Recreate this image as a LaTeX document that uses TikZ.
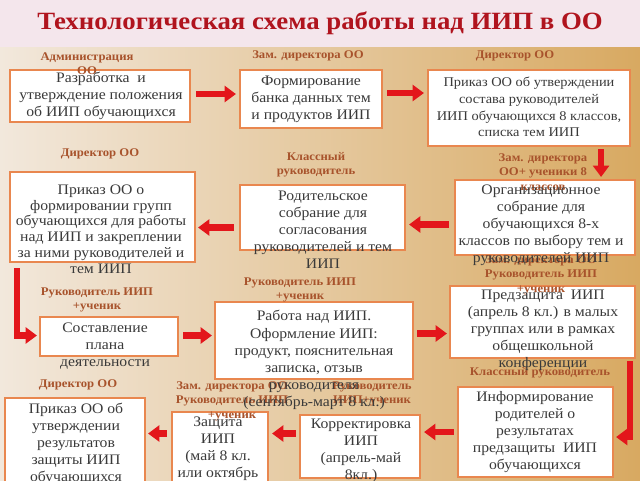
\documentclass[tikz,border=0pt]{standalone}
\usepackage{fontspec}
\setmainfont[FakeStretch=1.08]{Liberation Serif}
\usetikzlibrary{arrows.meta,calc,fit}
\definecolor{bandpink}{HTML}{F4E6EC}
\definecolor{titlered}{HTML}{B0141E}
\definecolor{bgL}{HTML}{F2E8DC}
\definecolor{bgM}{HTML}{E6C697}
\definecolor{bgR}{HTML}{D8A961}
\definecolor{boxor}{HTML}{E9874F}
\definecolor{txtc}{HTML}{3A3A3A}
\definecolor{labc}{HTML}{A8532C}
\definecolor{arrred}{HTML}{E3161B}
\tikzset{
  box/.style={draw=boxor, line width=1.6pt, fill=white, inner sep=0pt},
  txt/.style={align=center, text=txtc, inner sep=0pt, font=\fontsize{10.9}{12.8}\selectfont},
  lab/.style={align=center, text=labc, inner sep=0pt, font=\bfseries\fontsize{8.8}{10.8}\selectfont},
  arr/.style={draw=arrred, line width=4.6pt, line join=miter, -{Triangle[length=8.5pt,width=12pt]}},
}
\begin{document}
\begin{tikzpicture}[x=0.75pt,y=-0.75pt]
\useasboundingbox (0,0) rectangle (640,480);
\clip (0,0) rectangle (640,480);
\shade[left color=bgL, middle color=bgM, right color=bgR] (0,46) rectangle (640,480);
\fill[bandpink] (0,0) rectangle (640,47);
\node[text=titlered, font=\bfseries\fontsize{18.6}{22}\selectfont, inner sep=0pt] (title) at (320,23) {Технологическая схема работы над ИИП в ОО};

% boxes
\node[box, fit={(10,70) (190,122)}] (b1) {};
\node[box, fit={(240,70) (382,128)}] (b2) {};
\node[box, fit={(428,70) (630,146)}] (b3) {};
\node[box, fit={(455,180) (635,255)}] (b4) {};
\node[box, fit={(240,185) (405,250)}] (b5) {};
\node[box, fit={(10,172) (195,262)}] (b6) {};
\node[box, fit={(40,317) (178,356)}] (b7) {};
\node[box, fit={(215,302) (413,379)}] (b8) {};
\node[box, fit={(450,286) (635,358)}] (b9) {};
\node[box, fit={(458,387) (613,477)}] (b10) {};
\node[box, fit={(300,415) (420,478)}] (b11) {};
\node[box, fit={(172,412) (268,495)}] (b12) {};
\node[box, fit={(5,398) (145,495)}] (b13) {};

% arrows
\coordinate (a1s) at ($(b1.east)+(5,-2)$);
\draw[arr] (a1s) -- ($(a1s -| b2.west)+(-3,0)$);
\coordinate (a2s) at ($(b2.east)+(4,-6)$);
\draw[arr] (a2s) -- ($(a2s -| b3.west)+(-3,0)$);
\coordinate (a3s) at ($(b3.south east)+(-30,2)$);
\draw[arr] (a3s) -- ($(a3s |- b4.north)+(0,-2)$);
\coordinate (a4s) at ($(b4.west)+(-5,7)$);
\draw[arr] (a4s) -- ($(a4s -| b5.east)+(3,0)$);
\coordinate (a5s) at ($(b5.west)+(-5,10)$);
\draw[arr] (a5s) -- ($(a5s -| b6.east)+(2,0)$);
\coordinate (a6s) at ($(b6.south west)+(8,5)$);
\draw[arr] (a6s) |- ($(b7.west)+(-2,-1)$);
\coordinate (a7s) at ($(b7.east)+(4,-1)$);
\draw[arr] (a7s) -- ($(a7s -| b8.west)+(-2,0)$);
\coordinate (a8s) at ($(b8.east)+(3,-7)$);
\draw[arr] (a8s) -- ($(a8s -| b9.west)+(-2,0)$);
\coordinate (a9s) at ($(b9.south east)+(-6,2)$);
\draw[arr] (a9s) |- ($(b10.east)+(2,5)$);
\coordinate (a10s) at ($(b10.west)+(-3,0)$);
\draw[arr] (a10s) -- ($(a10s -| b11.east)+(3,0)$);
\coordinate (a11s) at ($(b11.west)+(-3,-13)$);
\draw[arr] (a11s) -- ($(a11s -| b12.east)+(3,0)$);
\coordinate (a12s) at ($(b12.west)+(-4,-20)$);
\draw[arr] (a12s) -- ($(a12s -| b13.east)+(2,0)$);

% labels
\node[lab] (l1) at (87,63.5) {Администрация\\ОО};
\node[lab] (l2) at (308,56) {Зам. директора ОО};
\node[lab] (l3) at (515,56) {Директор ОО};
\node[lab] (l6) at (100,154) {Директор ОО};
\node[lab] (l5) at (316,165) {Классный\\руководитель};
\node[lab] (l4) at (543,172) {Зам. директора\\ОО+ ученики 8\\классов};
\node[lab] (l7) at (97,300) {Руководитель ИИП\\+ученик};
\node[lab] (l8) at (300,290) {Руководитель ИИП\\+ученик};
\node[lab] (l9) at (541,275) {Зам. директора ОО\\Руководитель ИИП\\+ученик};
\node[lab] (l10) at (540,373) {Классный руководитель};
\node[lab] (l11) at (372,394) {Руководитель\\ИИП+ученик};
\node[lab] (l12) at (232,401) {Зам. директора ОО\\Руководитель ИИП\\+ученик};
\node[lab] (l13) at (78,385) {Директор ОО};

% box texts
\node[txt] (t1) at (101,96) {Разработка\ \ и\\утверждение положения\\об ИИП обучающихся};
\node[txt] (t2) at (311,99) {Формирование\\банка данных тем\\и продуктов ИИП};
\node[txt, font=\fontsize{10}{12.5}\selectfont] (t3) at (529,107) {Приказ ОО об утверждении\\состава руководителей\\ИИП обучающихся 8 классов,\\списка тем ИИП};
\node[txt] (t4) at (541,225) {Организационное\\собрание для\\обучающихся 8-х\\классов по выбору тем и\\руководителей ИИП};
\node[txt] (t5) at (323,230) {Родительское\\собрание для\\согласования\\руководителей и тем\\ИИП};
\node[txt, font=\fontsize{10.9}{11.8}\selectfont] (t6) at (101,229) {Приказ ОО о\\формировании групп\\обучающихся для работы\\над ИИП и закреплении\\за ними руководителей и\\тем ИИП};
\node[txt] (t7) at (105,346) {Составление\\плана\\деятельности};
\node[txt] (t8) at (314,360) {Работа над ИИП.\\Оформление ИИП:\\продукт, пояснительная\\записка, отзыв\\руководителя\\(сентябрь-март 8 кл.)};
\node[txt] (t9) at (543,330) {Предзащита\ \ ИИП\\(апрель 8 кл.) в малых\\группах или в рамках\\общешкольной\\конференции};
\node[txt] (t10) at (535,432) {Информирование\\родителей о\\результатах\\предзащиты\ \ ИИП\\обучающихся};
\node[txt] (t11) at (361,451) {Корректировка\\ИИП\\(апрель-май\\8кл.)};
\node[txt] (t12) at (218,449) {Защита\\ИИП\\(май 8 кл.\\или октябрь};
\node[txt] (t13) at (76,444) {Приказ ОО об\\утверждении\\результатов\\защиты ИИП\\обучающихся};
\end{tikzpicture}
\end{document}
